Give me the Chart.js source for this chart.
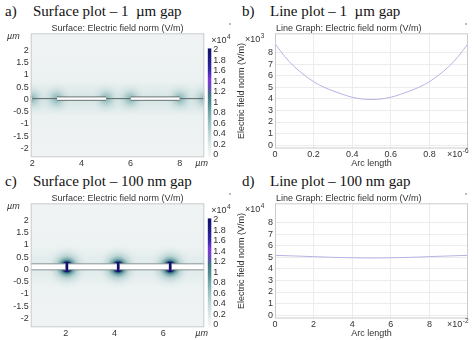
<!DOCTYPE html>
<html>
<head>
<meta charset="utf-8">
<script src="https://cdn.jsdelivr.net/npm/chart.js@4.4.1/dist/chart.umd.min.js"></script>
<style>
html, body { margin: 0; padding: 0; background: #fff; width: 474px; height: 340px; overflow: hidden; }
.box { position: absolute; }
.h { position: absolute; font-family: "Liberation Serif", "Times New Roman", serif; font-size: 15px; line-height: 15px; color: #111; white-space: pre; }
</style>
</head>
<body>
<div class="h" style="left:5px;top:4px">a)</div>
<div class="h" style="left:33px;top:4px">Surface plot – 1  µm gap</div>
<div class="h" style="left:242px;top:4px">b)</div>
<div class="h" style="left:270px;top:4px">Line plot – 1  µm gap</div>
<div class="h" style="left:5px;top:174px">c)</div>
<div class="h" style="left:33px;top:174px">Surface plot – 100 nm gap</div>
<div class="h" style="left:242px;top:174px">d)</div>
<div class="h" style="left:270px;top:174px">Line plot – 100 nm gap</div>

<div class="box" style="left:0;top:0"><canvas id="ca" width="239" height="170"></canvas></div>
<div class="box" style="left:236px;top:0"><canvas id="cb" width="238" height="170"></canvas></div>
<div class="box" style="left:0;top:170px"><canvas id="cc" width="239" height="170"></canvas></div>
<div class="box" style="left:236px;top:170px"><canvas id="cd" width="238" height="170"></canvas></div>

<script>
// ---- data ----
// a) 1 um gap surface: hot spots at electrode ends, glow in the gaps (x10^4 V/m)
const aHotX = [2, 3, 5, 6, 8, 9]
const aHotV = [0.7, 0.75, 0.75, 0.75, 0.75, 0.7]
const aGapX = [2.5, 5.5, 8.5]
const aGapV = [0.4, 0.4, 0.4]
const aElecFrom = [1.8, 3, 6, 9]
const aElecTo = [2, 5, 8, 9.2]
// c) 100 nm gap surface
const cGapX = [2.05, 4.15, 6.28]
const cHotV = [2.4, 2.4, 2.4]
const cElecFrom = [0.4, 2.1, 4.2, 6.33]
const cElecTo = [2.0, 4.1, 6.23, 8.0]

const xTicksA = [2, 4, 6, 8]
const xTicksC = [2, 4, 6]
const yTicksSurf = [2, 1.5, 1, 0.5, 0, -0.5, -1, -1.5, -2]
const cbTicks = [0, 0.2, 0.4, 0.6, 0.8, 1, 1.2, 1.4, 1.6, 1.8, 2]

// b) line plot 1 um gap, arc length x10^-6, field x10^3
const bArc = [0, 0.05, 0.1, 0.15, 0.2, 0.25, 0.3, 0.35, 0.4, 0.45, 0.5, 0.55, 0.6, 0.65, 0.7, 0.75, 0.8, 0.85, 0.9, 0.95, 1]
const bField = [8.8, 7.7, 6.8, 6.1, 5.5, 5.05, 4.7, 4.4, 4.15, 4.0, 3.95, 4.0, 4.15, 4.4, 4.7, 5.05, 5.5, 6.1, 6.8, 7.7, 8.8]
const bTicksX = [0, 0.2, 0.4, 0.6, 0.8]
// d) line plot 100 nm gap, arc length x10^-2, field x10^4
const dArc = [0, 1, 2, 3, 4, 5, 6, 7, 8, 9, 10]
const dField = [5.18, 5.13, 5.07, 5.01, 4.97, 4.95, 4.97, 5.01, 5.07, 5.13, 5.18]
const dTicksX = [0, 2, 4, 6, 8]
const lineTicksY = [0, 1, 2, 3, 4, 5, 6, 7, 8]

// ---- colour map (x10^4) ----
const cmVals = [0, 0.2, 0.4, 0.6, 0.8, 1.0, 1.15, 1.3, 1.45, 1.6, 1.8, 2.0]
const cmCols = ['#f5f6f6', '#dde9e9', '#c2d9d9', '#9fc3c4', '#77a9ab', '#4a8b8e', '#3f7588', '#6a48c0', '#7a38d8', '#3a2aa8', '#201c8c', '#12126c']

const SANS = '"Liberation Sans", Arial, sans-serif'
Chart.defaults.font.family = SANS
Chart.defaults.font.size = 9
Chart.defaults.color = '#333'

function hex(c){ const n = parseInt(c.slice(1), 16); return [n >> 16 & 255, n >> 8 & 255, n & 255] }
const cmRGB = cmCols.map(hex)
function cmap(v){
  if(v <= cmVals[0]) return cmRGB[0]
  for(let i = 1; i < cmVals.length; i++){
    if(v <= cmVals[i]){
      const t = (v - cmVals[i-1]) / (cmVals[i] - cmVals[i-1])
      return cmRGB[i-1].map((c, k) => Math.round(c + (cmRGB[i][k] - c) * t))
    }
  }
  return cmRGB[cmRGB.length-1]
}
function rgba(v, a){ const c = cmap(v); return 'rgba('+c[0]+','+c[1]+','+c[2]+','+a+')' }

function glow(ctx, x, y, s){
  const px = x.getPixelForValue(s.x), py = y.getPixelForValue(s.y)
  const rpx = Math.abs(x.getPixelForValue(s.x + s.rx) - px)
  const rpy = Math.abs(y.getPixelForValue(s.y + s.ry) - py)
  ctx.save()
  ctx.translate(px, py)
  ctx.scale(1, rpy / rpx)
  const g = ctx.createRadialGradient(0, 0, 0, 0, 0, rpx)
  s.stops.forEach(st => g.addColorStop(st[0], rgba(s.v * st[1], st[2])))
  ctx.fillStyle = g
  ctx.beginPath(); ctx.arc(0, 0, rpx, 0, Math.PI*2); ctx.fill()
  ctx.restore()
}

function sci(ctx, base, exp, x, y){
  ctx.fillStyle = '#333'
  ctx.textAlign = 'left'; ctx.textBaseline = 'middle'
  ctx.font = '9px ' + SANS
  ctx.fillText(base, x, y)
  const w = ctx.measureText(base).width
  ctx.font = '6.5px ' + SANS
  ctx.fillText(exp, x + w + 0.5, y - 3.5)
}

const surfacePlugin = {
  id: 'surface',
  beforeDatasetsDraw(chart, args, o){
    const {ctx, chartArea: a, scales: {x, y}} = chart
    ctx.save()
    ctx.beginPath(); ctx.rect(a.left, a.top, a.width, a.height); ctx.clip()
    ctx.fillStyle = rgba(o.bg, 1)
    ctx.fillRect(a.left, a.top, a.width, a.height)
    const y0 = y.getPixelForValue(o.lineY)
    o.bands.forEach(b => {
      const hp = y.getPixelForValue(o.lineY - b[1]) - y0
      const g = ctx.createLinearGradient(0, y0 - hp, 0, y0 + hp)
      g.addColorStop(0, rgba(b[0], 0)); g.addColorStop(0.5, rgba(b[0], 1)); g.addColorStop(1, rgba(b[0], 0))
      ctx.fillStyle = g
      ctx.fillRect(a.left, y0 - hp, a.width, 2 * hp)
    })
    o.spots.forEach(s => glow(ctx, x, y, s))
    ctx.restore()
  },
  afterDraw(chart, args, o){
    const {ctx, chartArea: a, scales: {y2}} = chart
    ctx.save()
    ctx.strokeStyle = '#c9cccc'; ctx.lineWidth = 1
    ctx.strokeRect(a.left + 0.5, a.top + 0.5, a.width - 1, a.height - 1)
    // colour bar
    const yb = y2.getPixelForValue(-0.03), yt = y2.getPixelForValue(2.03)
    const g = ctx.createLinearGradient(0, y2.getPixelForValue(0), 0, y2.getPixelForValue(2))
    cmVals.forEach((v, i) => g.addColorStop(v / 2, cmCols[i]))
    ctx.fillStyle = g
    ctx.fillRect(a.right + 3.5, yt, 3.5, yb - yt)
    ctx.fillStyle = '#bbb'
    ctx.fillRect(229, 23, 2, 2)
    ctx.fillStyle = '#333'
    ctx.font = '9px ' + SANS
    ctx.textAlign = 'center'; ctx.textBaseline = 'middle'
    ctx.fillText(o.title, 117.5, 29)
    ctx.textAlign = 'left'
    ctx.font = 'italic 9px ' + SANS
    ctx.fillText('µm', 7, 36)
    ctx.fillText('µm', a.right - 9, 163)
    sci(ctx, '×10', '4', a.right + 7, 41)
    ctx.restore()
  }
}

const linePlugin = {
  id: 'lineDecor',
  afterDraw(chart, args, o){
    const {ctx, chartArea: a} = chart
    ctx.save()
    ctx.strokeStyle = '#c9cccc'; ctx.lineWidth = 1
    ctx.strokeRect(a.left + 0.5, a.top + 0.5, a.width - 1, a.height - 1)
    ctx.fillStyle = '#bbb'
    ctx.fillRect(a.right - 3, 23, 2, 2)
    ctx.fillStyle = '#333'
    ctx.font = '9px ' + SANS
    ctx.textAlign = 'left'; ctx.textBaseline = 'middle'
    ctx.fillText('Line Graph: Electric field norm (V/m)', a.left + 1, 29)
    sci(ctx, '×10', o.yExp, 9, 40)
    sci(ctx, '×10', o.xExp, a.right - 21, 155)
    ctx.restore()
  }
}

function electrodeSets(from, to, top, bottom, edge){
  const sets = []
  from.forEach((f, i) => {
    sets.push({data: [{x: f, y: top}, {x: to[i], y: top}], borderColor: edge, borderWidth: 1, pointRadius: 0, fill: false})
    sets.push({data: [{x: f, y: bottom}, {x: to[i], y: bottom}], borderColor: edge, borderWidth: 1, pointRadius: 0, fill: '-1', backgroundColor: '#ffffff'})
  })
  return sets
}

function fixedTicks(list){ return s => { s.ticks = list.map(v => ({value: v})) } }
// fixed box size so the plot area sits where it is in the picture
function fixSize(w, h){
  return s => {
    if(w != null) s.width = w
    if(h != null) s.height = h
    s.paddingTop = 0; s.paddingBottom = 0
  }
}
const tickBase = {autoSkip: false, maxRotation: 0, minRotation: 0, callback: v => String(v)}
const noGrid = {display: false, drawTicks: false, tickLength: 0}

function surfaceChart(id, opt){
  return new Chart(document.getElementById(id), {
    type: 'line',
    data: {datasets: opt.sets},
    options: {
      responsive: false, animation: false, events: [],
      layout: {padding: {top: 33.3, left: 0, right: 0, bottom: 0}},
      plugins: {
        legend: {display: false}, tooltip: {enabled: false},
        surface: {bg: 0.04, lineY: opt.lineY, bands: opt.bands, spots: opt.spots, title: 'Surface: Electric field norm (V/m)'}
      },
      scales: {
        x: {type: 'linear', min: opt.xmin, max: opt.xmax, grid: noGrid, border: {display: false},
            ticks: {...tickBase, padding: 1}, afterBuildTicks: fixedTicks(opt.xTicks), afterFit: fixSize(null, 12.7)},
        y: {type: 'linear', min: -2.36, max: 2.69, grid: noGrid, border: {display: false},
            ticks: {...tickBase, padding: 2}, afterBuildTicks: fixedTicks(yTicksSurf), afterFit: fixSize(30.7, null)},
        y2: {type: 'linear', position: 'right', min: -0.044, max: 2.318, grid: noGrid, border: {display: false},
            ticks: {...tickBase, padding: 9}, afterBuildTicks: fixedTicks(cbTicks), afterFit: fixSize(34.7, null)}
      }
    },
    plugins: [surfacePlugin]
  })
}

function lineChart(id, arc, field, xmax, xTicks, xExp, yExp){
  return new Chart(document.getElementById(id), {
    type: 'line',
    data: {datasets: [{
      data: arc.map((v, i) => ({x: v, y: field[i]})),
      borderColor: '#b4b4e4', borderWidth: 1, pointRadius: 0, cubicInterpolationMode: 'monotone', fill: false
    }]},
    options: {
      responsive: false, animation: false, events: [],
      layout: {padding: {top: 33.3, left: 0, right: 6, bottom: 0}},
      plugins: {legend: {display: false}, tooltip: {enabled: false}, lineDecor: {xExp: xExp, yExp: yExp}},
      scales: {
        x: {type: 'linear', min: 0, max: xmax, grid: {color: '#ececec', drawTicks: false}, border: {display: false},
            ticks: {...tickBase, padding: 1}, afterBuildTicks: fixedTicks(xTicks),
            title: {display: true, text: 'Arc length', color: '#333', padding: {top: 0, bottom: 1.5}},
            afterFit: fixSize(null, 21.5)},
        y: {type: 'linear', min: -0.3, max: 9.7, grid: {color: '#ececec', drawTicks: false}, border: {display: false},
            ticks: {...tickBase, padding: 2}, afterBuildTicks: fixedTicks(lineTicksY),
            title: {display: true, text: 'Electric field norm (V/m)', color: '#333', padding: 0},
            afterFit: fixSize(39, null)}
      }
    },
    plugins: [linePlugin]
  })
}

// a)
const stopsA = [[0, 1, 1], [0.2, 0.8, 0.9], [0.45, 0.5, 0.7], [0.7, 0.3, 0.4], [1, 0.15, 0]]
const stopsGapA = [[0, 1, 0.8], [0.5, 0.6, 0.5], [1, 0.3, 0]]
const spotsA = aGapX.map((gx, i) => ({x: gx, y: 0, v: aGapV[i], rx: 0.9, ry: 0.6, stops: stopsGapA}))
  .concat(aHotX.map((hx, i) => ({x: hx, y: 0.03, v: aHotV[i], rx: 0.75, ry: 0.75, stops: stopsA})))
const setsA = electrodeSets(aElecFrom, aElecTo, 0.1, -0.04, '#6a7272')
setsA.push({data: [{x: 1.9, y: 0.03}, {x: 9.1, y: 0.03}], borderColor: '#5f6868', borderWidth: 1, pointRadius: 0, fill: false})
surfaceChart('ca', {sets: setsA, xmin: 1.935, xmax: 9.0, xTicks: xTicksA, lineY: 0.03,
  bands: [[0.1, 2.2], [0.25, 0.7]], spots: spotsA})

// c)
const stopsC = [[0, 1, 1], [0.2, 0.9, 1], [0.27, 0.43, 1], [0.34, 0.33, 0.95], [0.48, 0.2, 0.8], [0.72, 0.1, 0.5], [1, 0.04, 0]]
const spotsC = cGapX.map((gx, i) => ({x: gx, y: 0.1, v: cHotV[i], rx: 0.95, ry: 0.95, stops: stopsC}))
const setsC = electrodeSets(cElecFrom, cElecTo, 0.225, -0.02, '#8a9292')
surfaceChart('cc', {sets: setsC, xmin: 0.566, xmax: 7.68, xTicks: xTicksC, lineY: 0.1,
  bands: [[0.08, 2.2], [0.18, 0.8]], spots: spotsC})

// b) and d)
lineChart('cb', bArc, bField, 1, bTicksX, '-6', '3')
lineChart('cd', dArc, dField, 10, dTicksX, '-2', '4')
</script>
</body>
</html>
